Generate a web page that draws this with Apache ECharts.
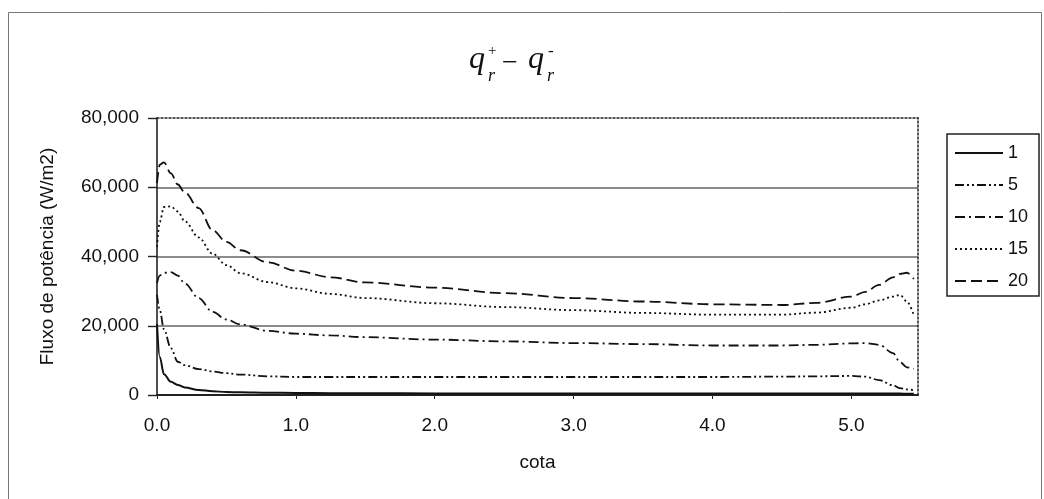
<!DOCTYPE html>
<html>
<head>
<meta charset="utf-8">
<script src="https://cdn.jsdelivr.net/npm/echarts@6/dist/echarts.min.js"></script>
<style>
  html, body { margin: 0; padding: 0; background: #fff; }
  #chart { width: 1044px; height: 499px; }
</style>
</head>
<body>
<div id="chart"></div>
<script>
// Position along the channel (cota) where the flux was evaluated
const cota = [0, 0.02, 0.05, 0.1, 0.15, 0.2, 0.3, 0.4, 0.5, 0.6, 0.8, 1.0, 1.25, 1.5,
              2.0, 2.5, 3.0, 3.5, 4.0, 4.5, 4.75, 5.0, 5.1, 5.2, 5.3, 5.35, 5.4, 5.45];

// Net radiative flux q_r+ - q_r- (W/m2) for each case
const s1  = [20500, 11000, 6000, 3800, 2900, 2200, 1450, 1100, 850, 780, 650, 580, 520, 500,
             450, 420, 400, 400, 400, 400, 400, 420, 430, 430, 420, 400, 380, 350];
const s5  = [29000, 24500, 19000, 13500, 9600, 8600, 7500, 6800, 6300, 5900, 5400, 5200, 5200, 5200,
             5200, 5200, 5200, 5200, 5200, 5300, 5400, 5500, 5300, 4300, 2800, 2000, 1600, 1400];
const s10 = [32300, 34500, 35300, 35500, 34500, 32200, 28000, 24000, 21800, 20400, 18500, 17700, 17200, 16700,
             16000, 15500, 15000, 14700, 14300, 14300, 14500, 14900, 15000, 14500, 12100, 9500, 8000, 7600];
const s15 = [42800, 50000, 54300, 54500, 53000, 50200, 45500, 40800, 37500, 35200, 32600, 30800, 29200, 28000,
             26500, 25400, 24500, 23700, 23200, 23200, 23800, 25200, 26200, 27300, 28400, 28900, 27000, 23000];
const s20 = [61200, 66500, 67200, 64000, 60800, 58500, 54000, 47600, 44200, 41800, 38300, 35900, 34000, 32500,
             31000, 29400, 28000, 27000, 26200, 26000, 26600, 28400, 29800, 31800, 34000, 35000, 35300, 33500];

const seriesNames = ['1', '5', '10', '15', '20'];
const seriesValues = [s1, s5, s10, s15, s20];
const dashes = ['solid', [9, 3, 2, 3, 2, 3], [10, 4, 2, 4], [2, 3], [11, 5]];

const xMax = 5.48;

const font = '"Liberation Sans", Arial, sans-serif';
const serif = '"Liberation Serif", "Times New Roman", serif';

const chart = echarts.init(document.getElementById('chart'), null, { renderer: 'canvas' });

const series = seriesNames.map((name, i) => ({
  name,
  type: 'line',
  xAxisIndex: 0,
  yAxisIndex: 0,
  data: cota.map((x, k) => [x, seriesValues[i][k]]),
  symbol: 'none',
  smooth: 0.35,
  smoothMonotone: 'x',
  lineStyle: { color: '#111', width: i === 0 ? 2 : 1.8, type: dashes[i] },
  itemStyle: { color: '#111' }
}));

const fmt = v => v.toLocaleString('en-US');

chart.setOption({
  backgroundColor: '#fff',
  animation: false,
  grid: { left: 157, right: 126, top: 118, bottom: 104, containLabel: false },
  legend: {
    orient: 'vertical',
    left: 947,
    top: 134,
    padding: [10, 11, 6, 7],
    itemWidth: 48,
    itemHeight: 16,
    itemGap: 14,
    itemTextGap: 5,
    borderColor: '#222',
    borderWidth: 1.5,
    // the line sample alone; the marker dot is hidden
    itemStyle: { color: 'transparent', borderColor: 'transparent', borderWidth: 0, opacity: 0 },
    textStyle: { fontFamily: font, fontSize: 18, color: '#111' },
    data: seriesNames
  },
  xAxis: [{
    type: 'value',
    min: 0,
    max: xMax,
    interval: 1,
    name: 'cota',
    nameLocation: 'middle',
    nameGap: 58,
    nameTextStyle: { fontFamily: font, fontSize: 19, color: '#111' },
    axisLine: { show: true, onZero: false, lineStyle: { color: '#222', width: 2 } },
    axisTick: { show: true, length: 4, lineStyle: { color: '#222' } },
    axisLabel: {
      margin: 21, fontFamily: font, fontSize: 19, color: '#111',
      showMaxLabel: false,
      formatter: v => (Math.abs(v - Math.round(v)) < 1e-9 ? v.toFixed(1) : '')
    },
    splitLine: { show: false }
  }, {
    // dotted frame on top of the plot area
    type: 'value', position: 'top', min: 0, max: xMax,
    axisLine: { show: true, onZero: false, lineStyle: { color: '#222', width: 1.5, type: [2, 2] } },
    axisTick: { show: false }, axisLabel: { show: false }, splitLine: { show: false }
  }],
  yAxis: [{
    type: 'value',
    min: 0,
    max: 80000,
    interval: 20000,
    name: 'Fluxo de potência (W/m2)',
    nameLocation: 'middle',
    nameGap: 100,
    nameRotate: 90,
    nameTextStyle: { fontFamily: font, fontSize: 19, color: '#111' },
    axisLine: { show: true, onZero: false, lineStyle: { color: '#222', width: 1.6 } },
    axisTick: { show: true, length: 9, lineStyle: { color: '#222', width: 1.4 } },
    axisLabel: { margin: 18, fontFamily: font, fontSize: 19, color: '#111', formatter: fmt },
    splitLine: { show: true, showMinLine: false, showMaxLine: false,
                 lineStyle: { color: '#666', width: 1.6 } }
  }, {
    // dotted frame on the right of the plot area
    type: 'value', position: 'right', min: 0, max: 80000, interval: 20000,
    axisLine: { show: true, onZero: false, lineStyle: { color: '#222', width: 1.5, type: [2, 2] } },
    axisTick: { show: false }, axisLabel: { show: false }, splitLine: { show: false }
  }],
  graphic: [
    { type: 'rect', silent: true, shape: { x: 8.5, y: 12.5, width: 1033, height: 500 },
      style: { fill: 'none', stroke: '#777', lineWidth: 1 } },
    { type: 'text', left: 469, top: 44, style: { text: 'q', font: 'italic 32px ' + serif, fill: '#111' } },
    { type: 'text', left: 488, top: 44, style: { text: '+', font: '15px ' + serif, fill: '#111' } },
    { type: 'text', left: 488, top: 67, style: { text: 'r', font: 'italic 18px ' + serif, fill: '#111' } },
    { type: 'text', left: 502, top: 50, style: { text: '−', font: '28px ' + serif, fill: '#111' } },
    { type: 'text', left: 528, top: 44, style: { text: 'q', font: 'italic 32px ' + serif, fill: '#111' } },
    { type: 'text', left: 548, top: 43, style: { text: '-', font: '17px ' + serif, fill: '#111' } },
    { type: 'text', left: 547, top: 67, style: { text: 'r', font: 'italic 18px ' + serif, fill: '#111' } }
  ],
  series
});
</script>
</body>
</html>
